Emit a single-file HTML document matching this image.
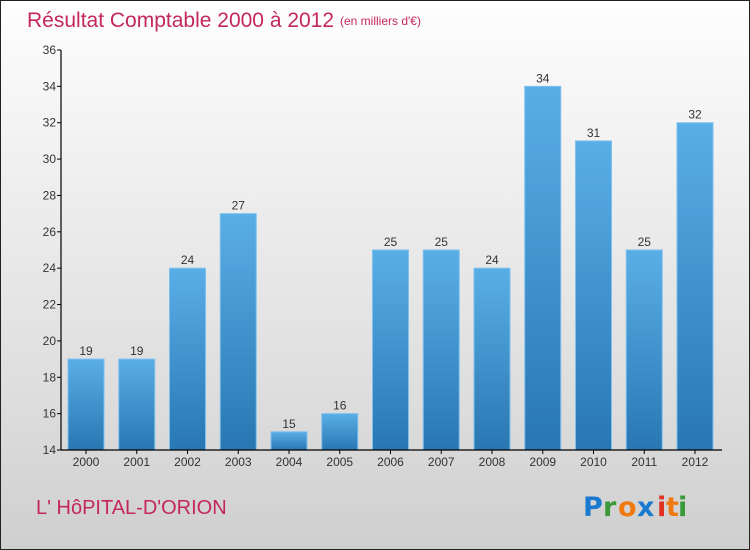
<!DOCTYPE html>
<html><head><meta charset="utf-8"><style>
html,body{margin:0;padding:0}
body{width:750px;height:550px;overflow:hidden;font-family:"Liberation Sans",sans-serif}
#frame{position:absolute;left:0;top:0;width:748px;height:548px;border:1px solid #222;background:linear-gradient(#fefefe,#f0f0f0 30%,#dcdcdc 75%,#cfcfcf)}
</style></head><body>
<div id="frame">
<svg width="750" height="550" style="position:absolute;left:-1px;top:-1px" id="chart">
<defs><linearGradient id="bg" x1="0" y1="0" x2="0" y2="1"><stop offset="0" stop-color="#5aaee6"/><stop offset="1" stop-color="#2877b3"/></linearGradient></defs>
<text x="27" y="27" font-size="21" fill="#c4285a">Résultat Comptable 2000 à 2012</text>
<text x="340" y="25" font-size="12" fill="#c4285a">(en milliers d'€)</text>
<text x="36" y="514" font-size="20" fill="#c4285a">L' HôPITAL-D'ORION</text>
<g font-size="27" font-weight="bold" font-family="'DejaVu Sans',sans-serif">
<text x="583" y="516" fill="#1a7ad0">P</text><text x="603" y="516" fill="#3a9a3a">r</text><text x="618" y="516" fill="#f07a10">o</text><text x="637" y="516" fill="#1a7ad0">x</text><text x="657" y="516" fill="#e03020">i</text><text x="666" y="516" fill="#f07a10">t</text><text x="678" y="516" fill="#3a9a3a">i</text>
</g>
<g id="plot"></g>
</svg>
</div>
<script>
const categories=["2000","2001","2002","2003","2004","2005","2006","2007","2008","2009","2010","2011","2012"];
const values=[19,19,24,27,15,16,25,25,24,34,31,25,32];
const yTicks=[14,16,18,20,22,24,26,28,30,32,34,36];
const ns="http://www.w3.org/2000/svg";
const g=document.getElementById('plot');
const yMin=14,yMax=36,y0=450,y1=50,x0=61,step=50.75,bw=36;
const yS=v=>y0-(v-yMin)/(yMax-yMin)*(y0-y1);
const xS=i=>x0+25+i*step;
function mk(t,a){const e=document.createElementNS(ns,t);for(const k in a)e.setAttribute(k,a[k]);g.appendChild(e);return e;}
values.forEach((v,i)=>{
const r=mk('rect',{x:xS(i)-bw/2,y:yS(v),width:bw,height:y0-yS(v),fill:'url(#bg)',stroke:'#7ec0ee','stroke-width':1});


const t=mk('text',{x:xS(i),y:yS(v)-4,'font-size':12,'text-anchor':'middle',fill:'#333'});
t.textContent=v;


const c=mk('text',{x:xS(i),y:y0+16,'font-size':12,'text-anchor':'middle',fill:'#333'});
c.textContent=categories[i];


mk('line',{x1:xS(i),x2:xS(i),y1:y0,y2:y0+4,stroke:'#000'});
});
yTicks.forEach(v=>{
mk('line',{x1:57,x2:61,y1:yS(v),y2:yS(v),stroke:'#000'});
const t=mk('text',{x:56,y:yS(v)+4,'font-size':12,'text-anchor':'end',fill:'#333'});
t.textContent=v;


});
const ya=mk('line',{x1:61,x2:61,y1:y1,y2:y0,stroke:'#000','stroke-width':1.2});


const xa=mk('line',{x1:61,x2:722,y1:y0,y2:y0,stroke:'#000','stroke-width':1.2});


</script>
</body></html>
